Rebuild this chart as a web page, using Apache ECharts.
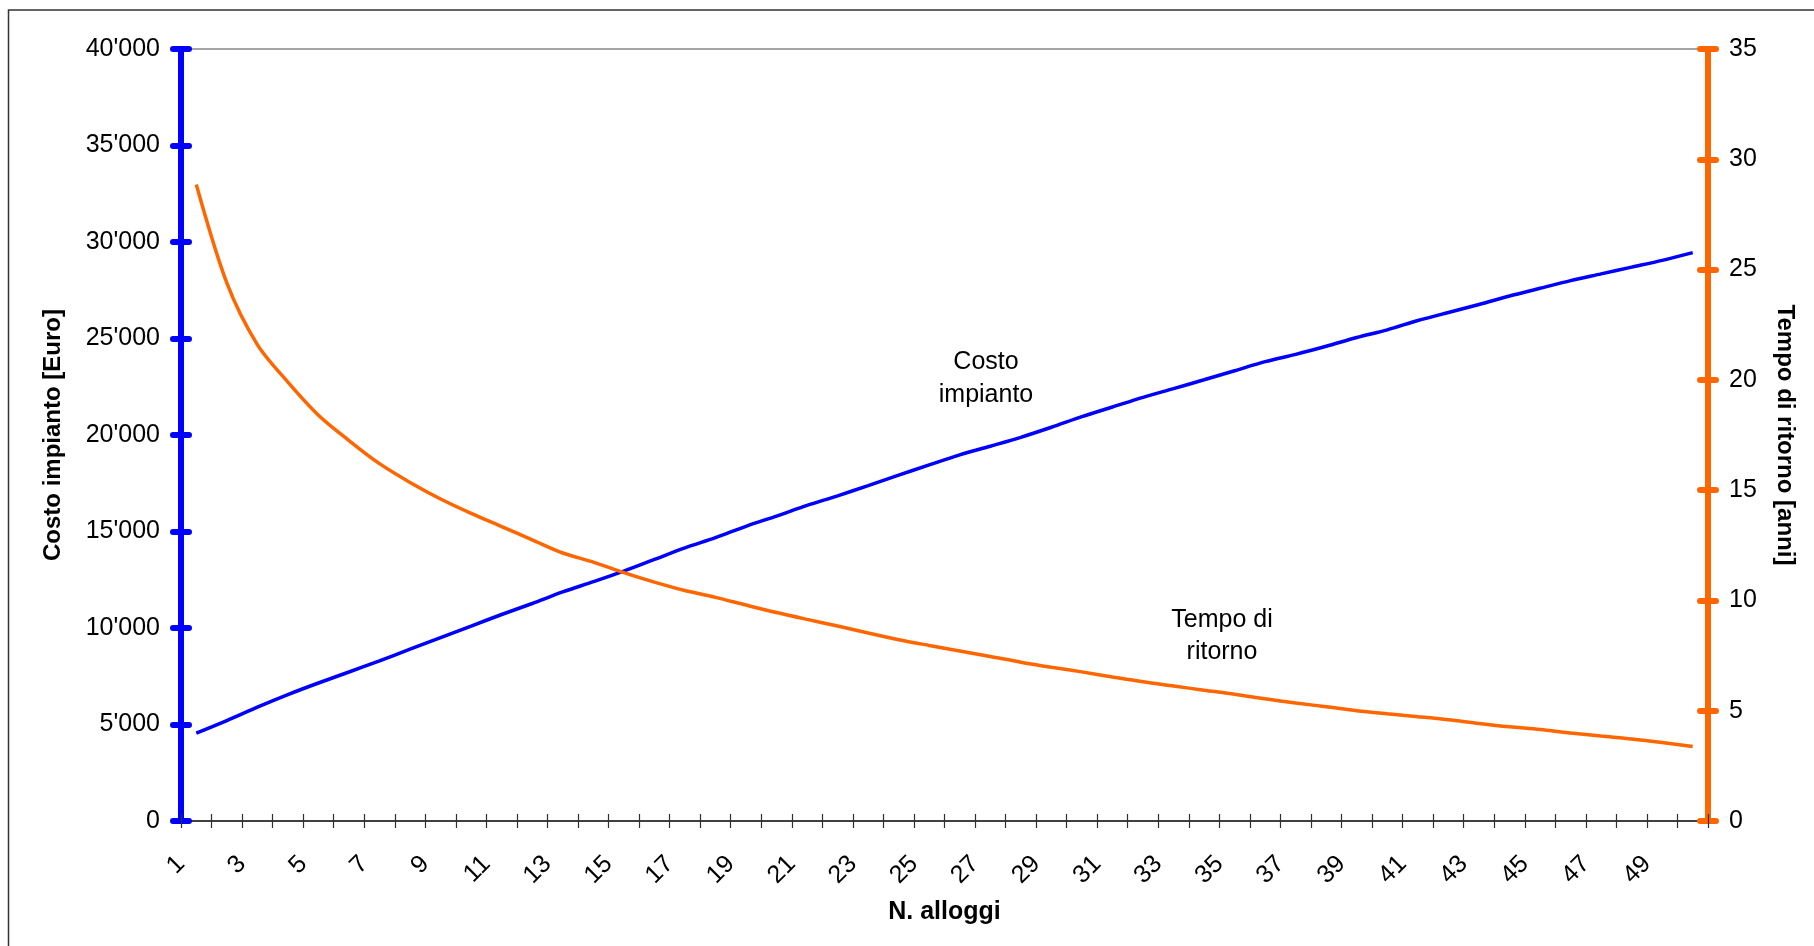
<!DOCTYPE html>
<html>
<head>
<meta charset="utf-8">
<script src="https://cdn.jsdelivr.net/npm/echarts@6/dist/echarts.min.js"></script>
<style>
	html, body { margin: 0; padding: 0; background: #fff; }
	#main { width: 1814px; height: 946px; }
</style>
</head>
<body>
<div id="main"></div>
<script>
// numero alloggi (categorie asse x)
var alloggi = [];
for (var n = 1; n <= 50; n++) alloggi.push(n);

// costo impianto [Euro]
var costoImpianto = [
	4550, 5200, 5900, 6550, 7150, 7720, 8300, 8900, 9500, 10100,
	10700, 11270, 11870, 12400, 12950, 13550, 14150, 14680, 15270, 15800,
	16350, 16850, 17380, 17920, 18450, 18970, 19420, 19880, 20400, 20950,
	21450, 21950, 22400, 22860, 23330, 23800, 24180, 24600, 25050, 25450,
	25930, 26350, 26760, 27200, 27600, 28000, 28350, 28700, 29050, 29450
];

// tempo di ritorno [anni]
var tempoRitorno = [
	28.86, 24.4, 21.6, 19.9, 18.4, 17.25, 16.2, 15.35, 14.6, 13.95,
	13.35, 12.75, 12.15, 11.74, 11.26, 10.83, 10.45, 10.14, 9.79, 9.45,
	9.14, 8.84, 8.52, 8.22, 7.96, 7.71, 7.46, 7.2, 6.97, 6.76,
	6.53, 6.31, 6.12, 5.93, 5.75, 5.54, 5.35, 5.18, 5.0, 4.86,
	4.73, 4.59, 4.42, 4.27, 4.15, 3.99, 3.85, 3.72, 3.56, 3.38
];

var FONT = "'Liberation Sans', Arial, sans-serif";
var BLU = '#0000FF';
var ARANCIO = '#FF6600';

var dom = document.getElementById('main');
var myChart = echarts.init(dom);

// etichette sui confini delle categorie (come Excel)
var etichette = alloggi.map(String).concat(['']);

function nota(testo, x, y) {
	return {
		type: 'text', x: x, y: y, z: 10,
		style: { text: testo, font: '25px ' + FONT, fill: '#000', align: 'center', verticalAlign: 'middle' }
	};
}

myChart.setOption({
	animation: false,
	backgroundColor: '#fff',
	textStyle: { fontFamily: FONT },
	grid: {
		left: 181,
		top: 49,
		width: 1527,
		height: 772,
		show: true,
		borderColor: '#888888',
		borderWidth: 1.5,
		backgroundColor: 'transparent'
	},
	graphic: [
		{
			type: 'rect',
			shape: { x: 8.5, y: 10, width: 1900, height: 1000 },
			style: { fill: 'none', stroke: '#333', lineWidth: 1.5 },
			silent: true
		},
		nota('Costo', 986, 362),
		nota('impianto', 986, 395),
		nota('Tempo di', 1222, 620),
		nota('ritorno', 1222, 652)
	],
	xAxis: [
		{
			type: 'category',
			data: alloggi,
			boundaryGap: true,
			name: 'N. alloggi',
			nameLocation: 'middle',
			nameGap: 79,
			nameTextStyle: { fontSize: 25, fontWeight: 'bold', color: '#000', fontFamily: FONT },
			axisLine: { lineStyle: { color: '#404040', width: 2 } },
			axisTick: { show: true, interval: 0, length: 7, lineStyle: { color: '#303030', width: 1.2 } },
			axisLabel: { show: false },
			splitLine: { show: false }
		},
		{
			// solo etichette e tacche interne, sui confini
			type: 'category',
			data: etichette,
			boundaryGap: false,
			position: 'bottom',
			axisLine: { show: false },
			axisTick: { show: true, inside: true, interval: 0, length: 7, lineStyle: { color: '#303030', width: 1.2 } },
			axisLabel: {
				interval: 1,
				rotate: 45,
				margin: 39,
				fontSize: 25,
				color: '#000',
				fontFamily: FONT
			},
			splitLine: { show: false }
		}
	],
	yAxis: [
		{
			type: 'value',
			position: 'left',
			min: 0,
			max: 40000,
			interval: 5000,
			name: 'Costo impianto [Euro]',
			nameLocation: 'middle',
			nameRotate: 90,
			nameGap: 116,
			nameTextStyle: { fontSize: 24, fontWeight: 'bold', color: '#000', fontFamily: FONT },
			axisLine: { show: true, lineStyle: { color: BLU, width: 6, cap: 'round' } },
			axisTick: { show: true, length: 8, lineStyle: { color: BLU, width: 6, cap: 'round' } },
			axisLabel: {
				margin: 21,
				fontSize: 25,
				color: '#000',
				fontFamily: FONT,
				formatter: function (v) {
					return String(v).replace(/\B(?=(\d{3})+(?!\d))/g, "'");
				}
			},
			splitLine: { show: false }
		},
		{
			type: 'value',
			position: 'right',
			min: 0,
			max: 35,
			interval: 5,
			name: 'Tempo di ritorno [anni]',
			nameLocation: 'middle',
			nameRotate: -90,
			nameGap: 65,
			nameTextStyle: { fontSize: 24, fontWeight: 'bold', color: '#000', fontFamily: FONT },
			axisLine: { show: true, lineStyle: { color: ARANCIO, width: 6, cap: 'round' } },
			axisTick: { show: true, length: 8, lineStyle: { color: ARANCIO, width: 6, cap: 'round' } },
			axisLabel: { margin: 21, fontSize: 25, color: '#000', fontFamily: FONT },
			splitLine: { show: false }
		},
		{
			// tacche interne asse sinistro
			type: 'value', position: 'left', min: 0, max: 40000, interval: 5000,
			axisLine: { show: false },
			axisTick: { show: true, inside: true, length: 8, lineStyle: { color: BLU, width: 6, cap: 'round' } },
			axisLabel: { show: false },
			splitLine: { show: false }
		},
		{
			// tacche interne asse destro
			type: 'value', position: 'right', min: 0, max: 35, interval: 5,
			axisLine: { show: false },
			axisTick: { show: true, inside: true, length: 8, lineStyle: { color: ARANCIO, width: 6, cap: 'round' } },
			axisLabel: { show: false },
			splitLine: { show: false }
		}
	],
	series: [
		{
			name: 'Costo impianto',
			type: 'line',
			xAxisIndex: 0,
			yAxisIndex: 0,
			data: costoImpianto,
			symbol: 'none',
			smooth: 0.3,
			lineStyle: { color: BLU, width: 3.5 },
			z: 3
		},
		{
			name: 'Tempo di ritorno',
			type: 'line',
			xAxisIndex: 0,
			yAxisIndex: 1,
			data: tempoRitorno,
			symbol: 'none',
			smooth: 0.3,
			lineStyle: { color: ARANCIO, width: 3.5 },
			z: 3
		}
	]
});

window.onresize = function () {
	myChart.resize();
};
</script>
</body>
</html>
